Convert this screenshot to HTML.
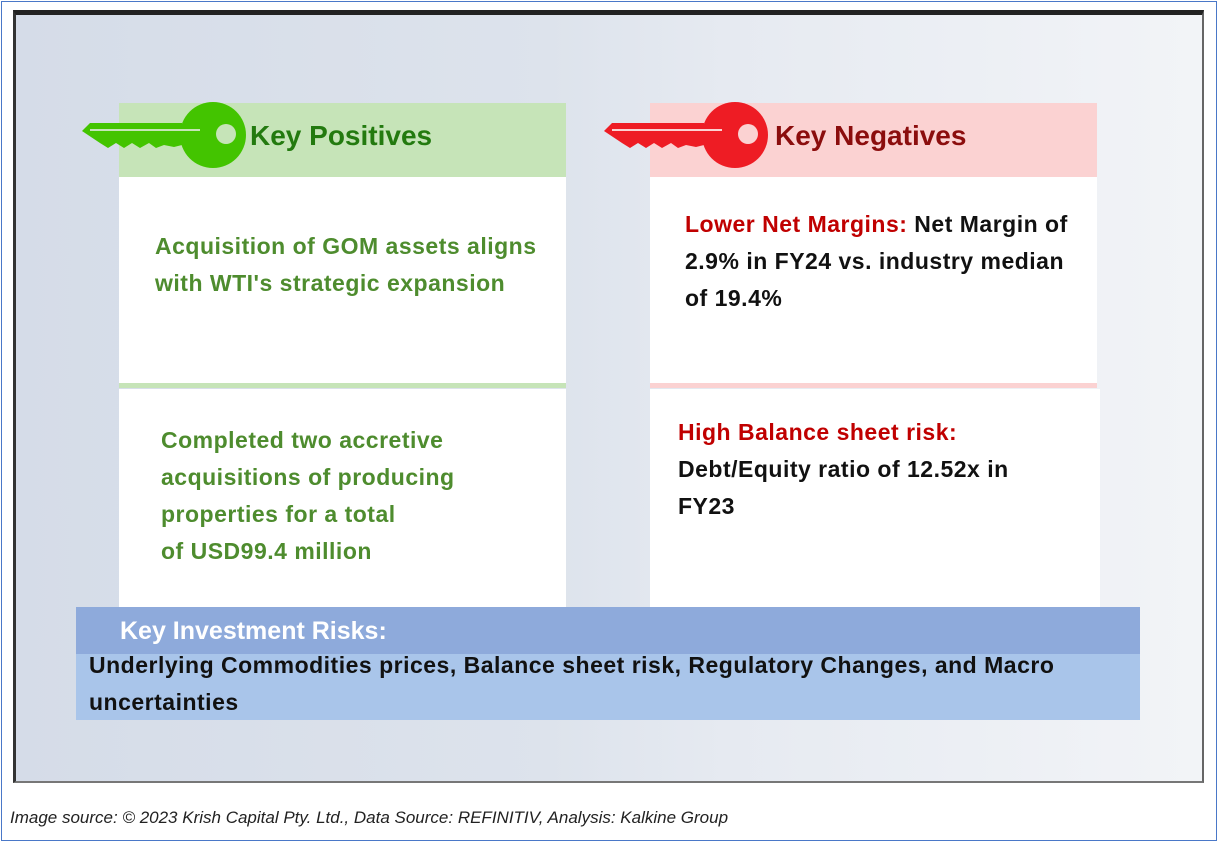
<!DOCTYPE html>
<html><head><meta charset="utf-8"><style>
body{margin:0;width:1218px;height:842px;background:#fff;position:relative;overflow:hidden;font-family:"Liberation Sans",Arial,sans-serif}
div{position:absolute;box-sizing:border-box}
.t{font-weight:bold;font-size:23px;letter-spacing:0.5px;line-height:37px;white-space:nowrap}
</style></head><body>
<div style="left:1px;top:1px;width:1216px;height:840px;border:1px solid #4a78c8"></div>
<div style="left:13px;top:10px;width:1191px;height:773px;border-top:5px solid #222;border-left:3px solid #333;border-right:2px solid #666;border-bottom:2px solid #777;background:linear-gradient(90deg,#d5dce8 0%,#dde3ec 45%,#e6eaf1 60%,#f2f4f7 100%)"></div>

<div style="left:119px;top:103px;width:447px;height:74px;background:#c6e4b8"></div>
<svg style="position:absolute;left:82px;top:98px" width="165" height="85">
<path d="M0,33 L8,25 L100,25 L100,47 L92,49 L82,47 L74,50 L67,45 L58,50 L50,45 L42,50 L34,45 L26,50 L18,45 Z" fill="#43c400"/>
<circle cx="131" cy="37" r="33" fill="#43c400"/><circle cx="144" cy="36" r="10" fill="#c6e4b8"/>
<rect x="8" y="31" width="110" height="2" fill="#c6e4b8"/></svg>
<div style="left:250px;top:120px;font-size:28px;font-weight:bold;color:#237a0f">Key Positives</div>
<div style="left:119px;top:177px;width:447px;height:207px;background:#fff"></div>
<div style="left:119px;top:383px;width:447px;height:5px;background:#c6e4b8"></div>
<div style="left:119px;top:389px;width:447px;height:218px;background:#fff"></div>
<div class="t" style="left:155px;top:228px;color:#4e8c2e">Acquisition of GOM assets aligns<br>with WTI's strategic expansion</div>
<div class="t" style="left:161px;top:422px;color:#4e8c2e">Completed two accretive<br>acquisitions of producing<br>properties for a total<br>of USD99.4 million</div>

<div style="left:650px;top:103px;width:447px;height:74px;background:#fbd2d2"></div>
<svg style="position:absolute;left:604px;top:98px" width="165" height="85">
<path d="M0,33 L8,25 L100,25 L100,47 L92,49 L82,47 L74,50 L67,45 L58,50 L50,45 L42,50 L34,45 L26,50 L18,45 Z" fill="#ee1c24"/>
<circle cx="131" cy="37" r="33" fill="#ee1c24"/><circle cx="144" cy="36" r="10" fill="#fbd2d2"/>
<rect x="8" y="31" width="110" height="2" fill="#fbd2d2"/></svg>
<div style="left:775px;top:120px;font-size:28px;font-weight:bold;color:#8b0d0d">Key Negatives</div>
<div style="left:650px;top:177px;width:447px;height:207px;background:#fff"></div>
<div style="left:650px;top:383px;width:447px;height:5px;background:#fbd2d2"></div>
<div style="left:650px;top:389px;width:450px;height:218px;background:#fff"></div>
<div class="t" style="left:685px;top:206px;color:#111"><span style="color:#c00000">Lower Net Margins:</span> Net Margin of<br>2.9% in FY24 vs. industry median<br>of 19.4%</div>
<div class="t" style="left:678px;top:414px;color:#111"><span style="color:#c00000">High Balance sheet risk:</span><br>Debt/Equity ratio of 12.52x in<br>FY23</div>

<div style="left:76px;top:607px;width:1064px;height:47px;background:#8eaadb"></div>
<div style="left:76px;top:654px;width:1064px;height:66px;background:#a9c5ea"></div>
<div style="left:120px;top:617px;font-size:25px;font-weight:bold;color:#fff">Key Investment Risks:</div>
<div class="t" style="left:89px;top:647px;color:#111">Underlying Commodities prices, Balance sheet risk, Regulatory Changes, and Macro<br>uncertainties</div>

<div style="left:10px;top:808px;font-size:17px;font-style:italic;color:#222;white-space:nowrap">Image source: © 2023 Krish Capital Pty. Ltd., Data Source: REFINITIV, Analysis: Kalkine Group</div>
</body></html>
